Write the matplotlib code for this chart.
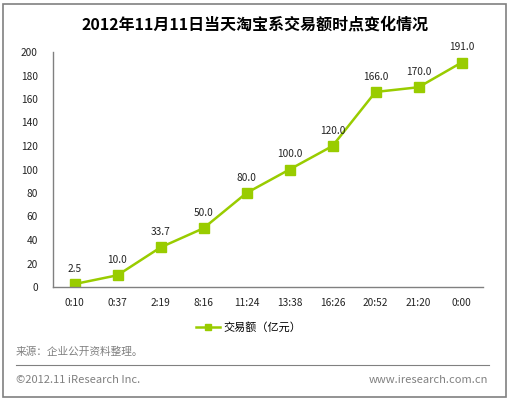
import matplotlib.pyplot as plt
from matplotlib.patches import Rectangle
from matplotlib.lines import Line2D

plt.rcParams['font.family'] = ['Noto Sans CJK SC', 'DejaVu Sans']

times = ["0:10", "0:37", "2:19", "8:16", "11:24", "13:38", "16:26", "20:52", "21:20", "0:00"]
sales = [2.5, 10.0, 33.7, 50.0, 80.0, 100.0, 120.0, 166.0, 170.0, 191.0]
yticks = [0, 20, 40, 60, 80, 100, 120, 140, 160, 180, 200]

green = "#99CC00"
grey = "#808080"

fig = plt.figure(figsize=(5.1, 4.0), dpi=100)
W, H = 510, 400

# outer frame
fig.patches.append(Rectangle((3 / W, 3 / H), 503 / W, 393 / H, transform=fig.transFigure,
                             fill=False, edgecolor=grey, linewidth=1.2))

fig.text(0.5, 1 - 25 / H, "2012年11月11日当天淘宝系交易额时点变化情况",
         ha="center", va="center", fontsize=11.5, fontweight="bold", color="black")

ax = fig.add_axes([53 / W, 1 - 287 / H, 430 / W, 235 / H])
x = range(len(times))
ax.plot(x, sales, color=green, linewidth=1.8, marker="s", markersize=6.5,
        markerfacecolor=green, markeredgecolor=green)
for xi, v in zip(x, sales):
    ax.annotate(f"{v:.1f}", (xi, v), xytext=(0, 11), textcoords="offset points",
                ha="center", va="center", fontsize=7.3, color="#222222")

ax.set_xlim(-0.5, len(times) - 0.5)
ax.set_ylim(0, 200)
ax.set_yticks(yticks)
ax.set_xticks(list(x))
ax.set_xticklabels(times)
ax.tick_params(length=0, labelsize=7.3, colors="#222222")
ax.tick_params(axis="y", pad=11)
ax.tick_params(axis="x", pad=8)
for s in ["top", "right"]:
    ax.spines[s].set_visible(False)
for s in ["left", "bottom"]:
    ax.spines[s].set_color(grey)
    ax.spines[s].set_linewidth(1)

# legend
handle = Line2D([], [], color=green, linewidth=1.8, marker="s", markersize=5,
                markerfacecolor=green, markeredgecolor=green)
fig.legend([handle], ["交易额（亿元）"], loc="center", bbox_to_anchor=(0.487, 1 - 327 / H),
           frameon=False, fontsize=8, handlelength=2.2, handletextpad=0.3)

fig.text(16 / W, 1 - 352 / H, "来源：企业公开资料整理。", ha="left", va="center",
         fontsize=7.7, color=grey)
fig.add_artist(Line2D([16 / W, 489 / W], [1 - 365 / H, 1 - 365 / H], color=grey,
                      linewidth=0.8, transform=fig.transFigure))
fig.text(16 / W, 1 - 380 / H, "©2012.11 iResearch Inc.", ha="left", va="center",
         fontsize=8, color=grey)
fig.text(488 / W, 1 - 380 / H, "www.iresearch.com.cn", ha="right", va="center",
         fontsize=8, color=grey)

fig.savefig("out.png", dpi=100)
